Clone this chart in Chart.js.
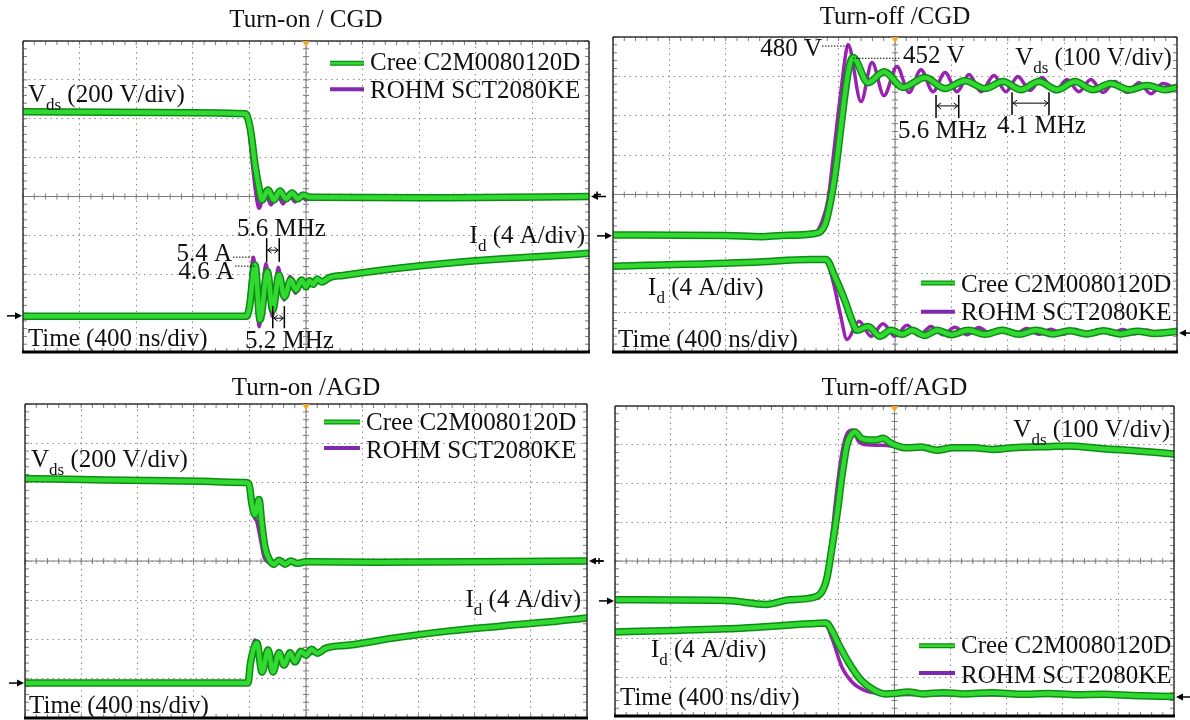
<!DOCTYPE html>
<html lang="en">
<head>
<meta charset="UTF-8">
<title>Turn-on / turn-off waveforms, CGD vs AGD</title>
<script src="https://cdn.jsdelivr.net/npm/chart.js"></script>
<style>
  html, body { margin: 0; padding: 0; background: #fff; }
  body { width: 1190px; height: 720px; position: relative; overflow: hidden; }
  .panel { position: absolute; }
</style>
</head>
<body>
<div class="panel" style="left:0;top:0;width:608px;height:362px"><canvas id="tl"></canvas></div>
<div class="panel" style="left:594px;top:0;width:596px;height:362px"><canvas id="tr"></canvas></div>
<div class="panel" style="left:0;top:362px;width:608px;height:358px"><canvas id="bl"></canvas></div>
<div class="panel" style="left:594px;top:362px;width:596px;height:358px"><canvas id="br"></canvas></div>
<script>
// traces read off the scope screens: [time ns, screen divisions]
// time axis 400 ns/div (-2000..2000), vertical 8 div (-4..4)

// Turn-on / CGD
const tlVdsCree = [[-2000,2.18],[-1100,2.16],[-430,2.13],[-417,2.08],[-389,1.64],[-360,0.81],[-332,0.22],[-311,-0.09],[-269,0.17],[-226,-0.09],[-184,0.14],[-141,-0.06],[-99,0.09],[-57,-0.06],[-21,0.04],[28,-0.02],[1000,-0.03],[2000,0.0]];
const tlVdsRohm = [[-2000,2.20],[-1100,2.17],[-440,2.13],[-410,1.90],[-382,0.94],[-353,0.04],[-332,-0.30],[-290,0.12],[-247,-0.22],[-205,0.09],[-163,-0.19],[-120,0.06],[-78,-0.14],[-42,0.04],[0,-0.09],[40,-0.01],[1000,-0.03],[2000,0.0]];
const tlIdCree = [[-2000,-3.08],[-1000,-3.08],[-420,-3.08],[-400,-2.85],[-360,-1.76],[-325,-3.17],[-273,-1.93],[-235,-2.92],[-191,-2.02],[-153,-2.58],[-108,-2.15],[-71,-2.40],[-30,-2.15],[0,-2.32],[25,-2.17],[49,-2.26],[80,-2.12],[111,-2.20],[170,-2.08],[261,-2.03],[664,-1.84],[1018,-1.71],[1371,-1.61],[1724,-1.53],[2000,-1.46]];
const tlIdRohm = [[-2000,-3.09],[-1000,-3.09],[-425,-3.09],[-405,-2.7],[-372,-1.56],[-330,-3.35],[-283,-1.72],[-238,-3.09],[-196,-1.82],[-155,-2.66],[-113,-2.06],[-73,-2.49],[-30,-2.12],[0,-2.35],[49,-2.2],[111,-2.17],[170,-2.1],[261,-2.03],[664,-1.84],[1018,-1.71],[1371,-1.61],[1724,-1.53],[2000,-1.46]];

// Turn-off / CGD
const trVdsCree = [[-2000,-1.03],[-1200,-1.04],[-943,-1.07],[-800,-1.04],[-567,-0.99],[-496,-0.76],[-461,-0.25],[-425,0.51],[-390,1.52],[-355,2.54],[-326,3.22],[-298,3.48],[-191,2.84],[-78,3.12],[57,2.72],[213,2.97],[355,2.69],[496,2.89],[638,2.69],[766,2.87],[893,2.66],[1021,2.87],[1149,2.66],[1276,2.87],[1404,2.66],[1531,2.82],[1659,2.66],[1787,2.77],[1914,2.66],[2000,2.72]];
const trVdsRohm = [[-2000,-1.03],[-1200,-1.04],[-943,-1.08],[-800,-1.04],[-567,-0.97],[-518,-0.69],[-475,-0.13],[-440,0.89],[-404,2.03],[-369,3.05],[-347,3.63],[-333,3.81],[-241,2.36],[-163,3.35],[-78,2.51],[14,3.25],[99,2.59],[184,3.17],[269,2.61],[355,3.10],[440,2.61],[525,3.05],[610,2.61],[702,3.02],[787,2.61],[872,3.0],[957,2.64],[1042,2.97],[1134,2.61],[1220,2.92],[1304,2.61],[1389,2.92],[1475,2.59],[1560,2.87],[1645,2.59],[1730,2.84],[1815,2.56],[1900,2.82],[2000,2.68]];
const trIdCree = [[-2000,-1.82],[-1000,-1.72],[-600,-1.65],[-490,-1.65],[-425,-2.1],[-355,-2.7],[-305,-3.2],[-270,-3.45],[-191,-3.35],[-106,-3.6],[-30,-3.45],[50,-3.55],[120,-3.45],[210,-3.58],[300,-3.45],[400,-3.56],[520,-3.45],[640,-3.55],[760,-3.45],[880,-3.55],[1000,-3.45],[1120,-3.54],[1240,-3.46],[1360,-3.54],[1480,-3.46],[1600,-3.54],[1720,-3.47],[1840,-3.53],[2000,-3.48]];
const trIdRohm = [[-2000,-1.83],[-1000,-1.73],[-600,-1.65],[-495,-1.66],[-440,-2.2],[-390,-3.0],[-340,-3.68],[-255,-3.22],[-170,-3.6],[-85,-3.28],[0,-3.6],[85,-3.32],[170,-3.58],[255,-3.35],[340,-3.56],[425,-3.37],[510,-3.56],[595,-3.38],[680,-3.55],[765,-3.4],[850,-3.55],[935,-3.4],[1020,-3.55],[1105,-3.42],[1190,-3.55],[1275,-3.42],[1360,-3.55],[1445,-3.43],[1530,-3.54],[1615,-3.43],[1700,-3.54],[1785,-3.44],[1870,-3.53],[2000,-3.48]];

// Turn-on / AGD
const blVdsCree = [[-2000,2.10],[-1100,2.05],[-430,2.0],[-406,1.96],[-385,1.45],[-363,1.18],[-335,1.57],[-313,0.9],[-292,0.35],[-263,0.05],[-228,-0.08],[-192,0.02],[-150,-0.08],[-107,0.0],[-64,-0.06],[0,-0.02],[500,-0.03],[2000,0.0]];
const blVdsRohm = [[-2000,2.12],[-1100,2.07],[-430,2.01],[-406,1.9],[-391,1.73],[-370,1.15],[-350,1.0],[-327,0.61],[-299,0.10],[-270,-0.03],[-228,-0.13],[-192,-0.03],[-150,-0.12],[-107,-0.02],[-64,-0.08],[0,-0.04],[500,-0.03],[2000,0.0]];
const blIdCree = [[-2000,-3.11],[-1000,-3.11],[-413,-3.11],[-395,-2.6],[-349,-2.09],[-313,-2.83],[-270,-2.27],[-235,-2.83],[-192,-2.34],[-157,-2.65],[-114,-2.34],[-78,-2.57],[-36,-2.3],[0,-2.4],[40,-2.25],[80,-2.35],[142,-2.22],[313,-2.14],[669,-1.94],[1025,-1.78],[1381,-1.66],[1737,-1.55],[2000,-1.45]];
const blIdRohm = [[-2000,-3.12],[-1000,-3.12],[-420,-3.12],[-400,-2.6],[-363,-2.01],[-320,-2.73],[-275,-2.22],[-240,-2.75],[-195,-2.3],[-160,-2.6],[-117,-2.3],[-80,-2.52],[-36,-2.28],[0,-2.38],[142,-2.22],[313,-2.14],[669,-1.94],[1025,-1.78],[1381,-1.66],[1737,-1.55],[2000,-1.45]];

// Turn-off / AGD
const brVdsCree = [[-2000,-1.0],[-1200,-1.02],[-920,-1.12],[-750,-1.0],[-569,-0.93],[-487,-0.49],[-447,0.36],[-404,1.4],[-376,2.2],[-340,3.0],[-300,3.3],[-283,3.33],[-240,3.17],[-180,3.12],[-132,3.12],[-82,3.17],[-30,3.05],[4,2.99],[82,2.92],[190,2.94],[304,2.86],[420,2.92],[569,2.92],[700,2.88],[850,2.92],[977,2.94],[1100,2.95],[1249,2.97],[1400,2.93],[1521,2.89],[1700,2.85],[2000,2.76]];
const brVdsRohm = [[-2000,-1.0],[-1200,-1.02],[-920,-1.12],[-750,-1.0],[-569,-0.92],[-487,-0.40],[-450,0.6],[-420,1.6],[-385,2.6],[-350,3.2],[-297,3.38],[-260,3.1],[-200,3.0],[-132,2.99],[-82,2.99],[4,2.95],[82,2.9],[190,2.92],[304,2.84],[420,2.9],[569,2.9],[700,2.86],[850,2.9],[977,2.92],[1100,2.93],[1249,2.95],[1400,2.91],[1521,2.87],[1700,2.83],[2000,2.75]];
const brIdCree = [[-2000,-1.83],[-1200,-1.75],[-600,-1.62],[-490,-1.60],[-440,-1.85],[-404,-2.12],[-326,-2.63],[-240,-3.07],[-147,-3.33],[-68,-3.43],[0,-3.42],[100,-3.38],[200,-3.43],[350,-3.40],[500,-3.43],[700,-3.40],[900,-3.44],[1100,-3.42],[1300,-3.45],[1500,-3.44],[1700,-3.47],[2000,-3.50]];
const brIdRohm = [[-2000,-1.85],[-1200,-1.76],[-600,-1.63],[-500,-1.62],[-447,-2.0],[-376,-2.74],[-297,-3.15],[-218,-3.33],[-132,-3.41],[0,-3.44],[200,-3.45],[500,-3.45],[900,-3.46],[1300,-3.47],[1700,-3.49],[2000,-3.51]];

const CREE = 'Cree C2M0080120D';
const ROHM = 'ROHM SCT2080KE';

const GREEN_DARK = '#0c8c12';
const GREEN = '#33d933';
const PURPLE = '#9a22b2';
const GRID = '#8c8c8c';
const FONT = '"Liberation Serif", "Times New Roman", Times, serif';

// draws "V" + subscript "ds" + rest, or plain text
function drawLabel(ctx, lab, px, py) {
  const segs = [[lab.main, '25px ' + FONT, 0]];
  if (lab.sub) segs.push([lab.sub, '17px ' + FONT, 8]);
  if (lab.rest) segs.push([lab.rest, '25px ' + FONT, 0]);
  let w = 0;
  segs.forEach(s => { ctx.font = s[1]; w += ctx.measureText(s[0]).width; });
  let x = lab.align === 'right' ? px - w : px;
  segs.forEach(s => {
    ctx.font = s[1];
    ctx.fillText(s[0], x, py + s[2]);
    x += ctx.measureText(s[0]).width;
  });
}

function seg(ctx, x1, y1, x2, y2) {
  ctx.beginPath(); ctx.moveTo(x1, y1); ctx.lineTo(x2, y2); ctx.stroke();
}

// scope screen: crosshair, minor ticks, frame, markers and all the labels
const scopePlugin = {
  id: 'scope',
  beforeDatasetsDraw(chart, args, o) {
    const { ctx, chartArea: a, scales: { x, y } } = chart;
    const cx = x.getPixelForValue(0), cy = y.getPixelForValue(0);
    ctx.save();
    ctx.strokeStyle = '#7c7c7c';
    ctx.lineWidth = 1;
    seg(ctx, a.left, cy, a.right, cy);
    seg(ctx, cx, a.top, cx, a.bottom);
    for (let i = -25; i <= 25; i++) {
      const px = x.getPixelForValue(i * 80);
      seg(ctx, px, cy - 3, px, cy + 3);
      seg(ctx, px, a.top, px, a.top + 4);
      seg(ctx, px, a.bottom - 4, px, a.bottom);
    }
    for (let i = -20; i <= 20; i++) {
      const py = y.getPixelForValue(i * 0.2);
      seg(ctx, cx - 3, py, cx + 3, py);
      seg(ctx, a.left, py, a.left + 4, py);
      seg(ctx, a.right - 4, py, a.right, py);
    }
    ctx.restore();
  },
  afterDraw(chart, args, o) {
    const { ctx, chartArea: a, scales: { x, y } } = chart;
    const X = v => x.getPixelForValue(v), Y = v => y.getPixelForValue(v);
    ctx.save();

    // frame, heavy bottom edge
    ctx.strokeStyle = '#333';
    ctx.lineWidth = 1.5;
    seg(ctx, a.left, a.bottom, a.left, a.top);
    seg(ctx, a.left, a.top, a.right, a.top);
    seg(ctx, a.right, a.top, a.right, a.bottom);
    ctx.strokeStyle = '#000';
    ctx.lineWidth = 3;
    seg(ctx, a.left - 1, a.bottom, a.right + 1, a.bottom);

    // trigger position marker
    const cx = X(0);
    ctx.fillStyle = '#f4a52a';
    ctx.beginPath();
    ctx.moveTo(cx - 4, a.top); ctx.lineTo(cx + 4, a.top); ctx.lineTo(cx, a.top + 6);
    ctx.closePath(); ctx.fill();

    // channel ground arrows
    ctx.fillStyle = '#000';
    ctx.strokeStyle = '#000';
    ctx.lineWidth = 1.5;
    (o.arrowsLeft || []).forEach(v => {
      const py = Y(v), tip = a.left - 1;
      seg(ctx, tip - 15, py, tip - 5, py);
      ctx.beginPath(); ctx.moveTo(tip, py); ctx.lineTo(tip - 7, py - 3.5); ctx.lineTo(tip - 7, py + 3.5);
      ctx.closePath(); ctx.fill();
    });
    (o.arrowsRight || []).forEach(v => {
      const py = Y(v), tip = a.right + 2;
      seg(ctx, tip + 5, py, tip + 15, py);
      ctx.beginPath(); ctx.moveTo(tip, py); ctx.lineTo(tip + 7, py - 3.5); ctx.lineTo(tip + 7, py + 3.5);
      ctx.closePath(); ctx.fill();
    });
    (o.plusLeft || []).forEach(v => {
      const py = Y(v), px = a.left - 16;
      seg(ctx, px - 3, py, px + 4, py);
      seg(ctx, px, py - 3, px, py + 3);
    });

    // title
    ctx.fillStyle = '#111';
    ctx.font = '25px ' + FONT;
    ctx.textAlign = 'center';
    ctx.textBaseline = 'alphabetic';
    ctx.fillText(o.title, (a.left + a.right) / 2, a.top - o.titleGap);
    ctx.textAlign = 'left';

    // legend
    const lg = o.legend;
    ctx.lineCap = 'butt';
    ctx.strokeStyle = GREEN_DARK; ctx.lineWidth = 5;
    seg(ctx, X(lg.x0), Y(lg.y1), X(lg.x1), Y(lg.y1));
    ctx.strokeStyle = GREEN; ctx.lineWidth = 2.5;
    seg(ctx, X(lg.x0), Y(lg.y1), X(lg.x1), Y(lg.y1));
    ctx.strokeStyle = '#7f2aae'; ctx.lineWidth = 4;
    seg(ctx, X(lg.x0), Y(lg.y2), X(lg.x1), Y(lg.y2));
    drawLabel(ctx, { main: CREE }, X(lg.tx), Y(lg.t1));
    drawLabel(ctx, { main: ROHM }, X(lg.tx), Y(lg.t2));

    // dotted level lines to the peaks
    ctx.strokeStyle = '#000';
    ctx.lineWidth = 1;
    ctx.setLineDash([1.5, 1.5]);
    (o.dotted || []).forEach(d => seg(ctx, X(d.x1), Y(d.y), X(d.x2), Y(d.y)));
    ctx.setLineDash([]);

    // period markers |<->|
    ctx.lineWidth = 1.5;
    (o.periods || []).forEach(p => {
      const x1 = X(p.x1), x2 = X(p.x2), ya = Y(p.ya);
      seg(ctx, x1, Y(p.y1), x1, Y(p.y2));
      seg(ctx, x2, Y(p.y1), x2, Y(p.y2));
      ctx.lineWidth = 1;
      seg(ctx, x1 + 1, ya, x2 - 1, ya);
      seg(ctx, x1 + 1, ya, x1 + 5, ya - 3); seg(ctx, x1 + 1, ya, x1 + 5, ya + 3);
      seg(ctx, x2 - 1, ya, x2 - 5, ya - 3); seg(ctx, x2 - 1, ya, x2 - 5, ya + 3);
      ctx.lineWidth = 1.5;
    });

    // text labels
    ctx.fillStyle = '#111';
    (o.labels || []).forEach(l => drawLabel(ctx, l, X(l.x), Y(l.y)));
    ctx.restore();
  }
};

function pts(arr) {
  return arr.map(p => ({ x: p[0], y: p[1] }));
}

function trace(label, arr, color, width) {
  return {
    label: label,
    data: pts(arr),
    borderColor: color,
    borderWidth: width,
    pointRadius: 0,
    fill: false,
    cubicInterpolationMode: 'monotone',
    borderJoinStyle: 'round',
    borderCapStyle: 'round'
  };
}

function makeScope(id, vdsCree, vdsRohm, idCree, idRohm, padding, deco) {
  const axisGrid = { color: GRID, lineWidth: 1, drawTicks: false };
  const axisBorder = { display: false, dash: [1.5, 4] };
  return new Chart(document.getElementById(id), {
    type: 'line',
    data: {
      // first dataset is painted last, so Cree sits on top of ROHM
      datasets: [
        trace(CREE, vdsCree, GREEN, 4.5),
        trace(CREE, idCree, GREEN, 4.5),
        trace(CREE, vdsCree, GREEN_DARK, 7.5),
        trace(CREE, idCree, GREEN_DARK, 7.5),
        trace(ROHM, vdsRohm, PURPLE, 3.5),
        trace(ROHM, idRohm, PURPLE, 3.5)
      ]
    },
    options: {
      responsive: true,
      maintainAspectRatio: false,
      animation: false,
      events: [],
      layout: { autoPadding: false, padding: padding },
      plugins: {
        legend: { display: false },
        tooltip: { enabled: false },
        title: { display: false },
        scope: deco
      },
      scales: {
        x: {
          type: 'linear', min: -2000, max: 2000,
          afterFit: s => { s.height = 0; },
          ticks: { display: false, stepSize: 400 },
          grid: axisGrid, border: axisBorder
        },
        y: {
          type: 'linear', min: -4, max: 4,
          afterFit: s => { s.width = 0; },
          ticks: { display: false, stepSize: 1 },
          grid: axisGrid, border: axisBorder
        }
      }
    },
    plugins: [scopePlugin]
  });
}

const vds200 = { main: 'V', sub: 'ds', rest: ' (200 V/div)' };
const vds100 = { main: 'V', sub: 'ds', rest: ' (100 V/div)' };
const id4 = { main: 'I', sub: 'd', rest: ' (4 A/div)' };
const time400 = { main: 'Time (400 ns/div)' };

makeScope('tl', tlVdsCree, tlVdsRohm, tlIdCree, tlIdRohm,
  { left: 23, top: 41, right: 19, bottom: 10 },
  {
    title: 'Turn-on / CGD', titleGap: 14,
    legend: { x0: 170, x1: 410, tx: 452, y1: 3.43, t1: 3.25, y2: 2.76, t2: 2.53 },
    arrowsLeft: [-3.07], arrowsRight: [0],
    dotted: [{ x1: -516, x2: -382, y: -1.56 }, { x1: -502, x2: -353, y: -1.79 }],
    periods: [
      { x1: -278, x2: -189, y1: -1.07, y2: -1.68, ya: -1.38 },
      { x1: -235, x2: -153, y1: -2.82, y2: -3.39, ya: -3.13 }
    ],
    labels: [
      Object.assign({ x: -1965, y: 2.43 }, vds200),
      Object.assign({ x: 1972, y: -1.20, align: 'right' }, id4),
      Object.assign({ x: -1965, y: -3.84 }, time400),
      { main: '5.6 MHz', x: -488, y: -1.02 },
      { main: '5.2 MHz', x: -431, y: -3.89 },
      { main: '5.4 A', x: -523, y: -1.66, align: 'right' },
      { main: '4.6 A', x: -509, y: -2.12, align: 'right' }
    ]
  });

makeScope('tr', trVdsCree, trVdsRohm, trIdCree, trIdRohm,
  { left: 19, top: 37, right: 13, bottom: 10 },
  {
    title: 'Turn-off /CGD', titleGap: 13,
    legend: { x0: 184, x1: 425, tx: 468, y1: -2.25, t1: -2.47, y2: -2.98, t2: -3.19 },
    arrowsLeft: [-1.05], plusLeft: [0], arrowsRight: [-3.52],
    dotted: [{ x1: -518, x2: -333, y: 3.77 }, { x1: -298, x2: 35, y: 3.46 }],
    periods: [
      { x1: 291, x2: 452, y1: 2.53, y2: 1.94, ya: 2.25 },
      { x1: 830, x2: 1092, y1: 2.60, y2: 2.02, ya: 2.32 }
    ],
    labels: [
      { main: '480 V', x: -518, y: 3.52, align: 'right' },
      { main: '452 V', x: 57, y: 3.34 },
      Object.assign({ x: 1964, y: 3.29, align: 'right' }, vds100),
      { main: '5.6 MHz', x: 21, y: 1.43 },
      { main: '4.1 MHz', x: 723, y: 1.56 },
      Object.assign({ x: -1751, y: -2.55 }, id4),
      Object.assign({ x: -1964, y: -3.87 }, time400)
    ]
  });

makeScope('bl', blVdsCree, blVdsRohm, blIdCree, blIdRohm,
  { left: 25, top: 42, right: 21, bottom: 2 },
  {
    title: 'Turn-on /AGD', titleGap: 9,
    legend: { x0: 128, x1: 384, tx: 427, y1: 3.54, t1: 3.34, y2: 2.88, t2: 2.62 },
    arrowsLeft: [-3.11], arrowsRight: [0],
    labels: [
      Object.assign({ x: -1957, y: 2.39 }, vds200),
      Object.assign({ x: 1957, y: -1.17, align: 'right' }, id4),
      Object.assign({ x: -1971, y: -3.87 }, time400)
    ]
  });

makeScope('br', brVdsCree, brVdsRohm, brIdCree, brIdRohm,
  { left: 21, top: 44, right: 16, bottom: 4 },
  {
    title: 'Turn-off/AGD', titleGap: 11,
    legend: { x0: 175, x1: 433, tx: 476, y1: -2.19, t1: -2.37, y2: -2.89, t2: -3.15 },
    arrowsLeft: [-1.03], plusLeft: [0], arrowsRight: [-3.51],
    labels: [
      Object.assign({ x: 1972, y: 3.2, align: 'right' }, vds100),
      Object.assign({ x: -1743, y: -2.48 }, id4),
      Object.assign({ x: -1964, y: -3.72 }, time400)
    ]
  });
</script>
</body>
</html>
